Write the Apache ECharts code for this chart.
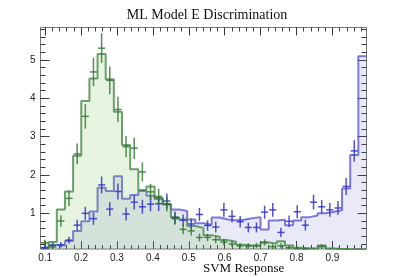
<!DOCTYPE html>
<html><head><meta charset="utf-8">
<script src="https://cdn.jsdelivr.net/npm/echarts@6/dist/echarts.min.js"></script>
<style>html,body{margin:0;padding:0;background:#fff}#c{width:407px;height:277px}</style>
</head><body><div id="c"></div>
<script>
// ---- axis ranges / ticks ----
const X_MIN = 0.087, X_MAX = 0.995, N_BINS = 40;
const Y_MIN = 0.068, Y_MAX = 5.85;
const xTickLabels = [0.1, 0.2, 0.3, 0.4, 0.5, 0.6, 0.7, 0.8, 0.9];
const yTickLabels = [1, 2, 3, 4, 5];

// ---- histograms (bin contents, 40 bins) ----
const signalHist = [0.10, 0.25, 1.10, 1.57, 2.50, 3.93, 4.52, 5.16, 4.50, 3.65,
                    2.78, 2.15, 1.61, 1.70, 1.40, 1.24, 0.90, 0.84, 0.67, 0.62,
                    0.43, 0.39, 0.30, 0.26, 0.18, 0.16, 0.15, 0.24, 0.21, 0.27,
                    0.16, 0.10, 0.09, 0.08, 0.16, 0.08, 0.07, 0.06, 0.06, 0.06];
const backgroundHist = [0.09, 0.17, 0.15, 0.28, 0.54, 0.79, 1.05, 1.67, 1.58, 1.97,
                        1.38, 1.48, 1.58, 1.46, 1.37, 1.23, 1.10, 1.06, 0.84, 0.74,
                        0.70, 0.89, 0.84, 0.82, 0.83, 0.87, 0.90, 0.58, 0.81, 0.83,
                        0.69, 0.81, 0.90, 0.94, 1.00, 1.04, 1.08, 1.65, 2.52, 5.10];

// ---- data points with errors ----
const signalPts = [0.23, 0.12, 0.80, 1.39, 2.55, 3.53, 4.69, 5.31, 4.47, 3.71,
                   2.74, 2.70, 2.08, 1.56, 1.44, 1.24, 0.86, 0.58, 0.54, 0.37,
                   0.37, 0.31, 0.25, 0.20, 0.15, 0.15, 0.16, 0.24, 0.13, 0.15,
                   0.10, 0.08, 0.07, 0.06, 0.13, 0.06, 0.05, 0.05, 0.04, 0.04];
const signalErr = [0.08, 0.06, 0.15, 0.20, 0.27, 0.32, 0.37, 0.39, 0.36, 0.33,
                   0.28, 0.28, 0.25, 0.21, 0.20, 0.19, 0.16, 0.13, 0.12, 0.10,
                   0.10, 0.09, 0.085, 0.08, 0.07, 0.07, 0.07, 0.08, 0.06, 0.07,
                   0.05, 0.05, 0.045, 0.04, 0.06, 0.04, 0.04, 0.04, 0.03, 0.03];
const backgroundPts = [0.10, 0.16, 0.18, 0.30, 0.69, 1.00, 0.86, 1.74, 1.11, 1.57,
                       0.98, 1.29, 1.17, 1.24, 1.25, 1.32, 0.89, 0.82, 0.72, 0.97,
                       0.68, 0.64, 1.09, 0.92, 0.78, 0.63, 0.63, 1.03, 1.09, 0.50,
                       0.79, 1.04, 0.69, 1.29, 1.17, 1.09, 1.14, 1.70, 2.63, null];
const backgroundErr = [0.05, 0.07, 0.07, 0.09, 0.14, 0.17, 0.16, 0.22, 0.18, 0.21,
                       0.17, 0.19, 0.18, 0.19, 0.19, 0.20, 0.16, 0.15, 0.14, 0.17,
                       0.14, 0.14, 0.18, 0.16, 0.15, 0.13, 0.13, 0.17, 0.18, 0.12,
                       0.15, 0.17, 0.14, 0.19, 0.18, 0.18, 0.18, 0.22, 0.28, null];

// ---- build ----
const edges = [];
for (let i = 0; i <= N_BINS; i++) edges.push(X_MIN + i * (X_MAX - X_MIN) / N_BINS);

function stepData(h) {
  const d = h.map((v, i) => [edges[i], v]);
  d.push([edges[N_BINS], h[N_BINS - 1]]);
  return d;
}
function minorList(start, end, step) {
  const out = [];
  for (let v = start; v <= end + 1e-9; v += step) out.push(+v.toFixed(4));
  return out;
}
const xMinor = minorList(0.1, 0.98, 0.02);
const yMinor = minorList(0.2, 5.8, 0.2);

const TICK = '#3a3a3a';
function axis(kind, pos, ticks, len, labels) {
  const a = {
    type: 'value', position: pos, min: kind === 'x' ? X_MIN : Y_MIN, max: kind === 'x' ? X_MAX : Y_MAX,
    axisLine: { show: false }, splitLine: { show: false },
    axisTick: { show: true, inside: true, length: len, customValues: ticks, lineStyle: { color: TICK, width: 1 } },
    axisLabel: { show: false }
  };
  if (labels) {
    a.axisLabel = {
      show: true, customValues: labels, color: '#222', fontSize: 10, fontFamily: 'Liberation Sans',
      margin: kind === 'x' ? 4 : 5,
      formatter: kind === 'x' ? (v => (+v).toFixed(1)) : (v => String(Math.round(v)))
    };
  }
  return a;
}

function errSeries(pts, errs, color) {
  const data = [];
  pts.forEach((v, i) => {
    if (v == null) return;
    data.push([(edges[i] + edges[i + 1]) / 2, v, errs[i], edges[i], edges[i + 1]]);
  });
  return {
    type: 'custom', xAxisIndex: 0, yAxisIndex: 0, data, z: 5,
    encode: { x: 0, y: 1 },
    renderItem(params, api) {
      const cs = params.coordSys;
      const top = cs.y, bot = cs.y + cs.height;
      const c = api.coord([api.value(0), api.value(1)]);
      const l = api.coord([api.value(3), api.value(1)]);
      const r = api.coord([api.value(4), api.value(1)]);
      const hi = api.coord([api.value(0), api.value(1) + api.value(2)]);
      const lo = api.coord([api.value(0), api.value(1) - api.value(2)]);
      const st = { stroke: color, lineWidth: 1.5 };
      const ch = [];
      const y1 = Math.max(top, hi[1]), y2 = Math.min(bot, lo[1]);
      if (y2 > y1) ch.push({ type: 'line', shape: { x1: c[0], y1: y1, x2: c[0], y2: y2 }, style: st });
      if (c[1] <= bot && c[1] >= top)
        ch.push({ type: 'line', shape: { x1: l[0] + 0.5, y1: c[1], x2: r[0] - 0.5, y2: c[1] }, style: st });
      return { type: 'group', children: ch };
    }
  };
}

const chart = echarts.init(document.getElementById('c'), null, { renderer: 'canvas' });
chart.setOption({
  animation: false,
  backgroundColor: '#fff',
  title: {
    text: 'ML Model E Discrimination', left: 207, top: 8, padding: 0, textAlign: 'center',
    textStyle: { fontFamily: 'Liberation Serif', fontSize: 14, fontWeight: 'normal', color: '#111' }
  },
  grid: { left: 40.5, right: 40.5, top: 27.5, bottom: 28, show: true, borderColor: '#777', borderWidth: 1, backgroundColor: 'transparent' },
  xAxis: [
    axis('x', 'bottom', xTickLabels, 8, xTickLabels),
    axis('x', 'bottom', xMinor, 4),
    axis('x', 'top', xTickLabels, 8),
    axis('x', 'top', xMinor, 4)
  ],
  yAxis: [
    axis('y', 'left', yTickLabels, 9, yTickLabels),
    axis('y', 'left', yMinor, 5),
    axis('y', 'right', yTickLabels, 9),
    axis('y', 'right', yMinor, 5)
  ],
  graphic: [{
    type: 'text', left: 203, top: 262, z: 10,
    style: { text: 'SVM Response', fontFamily: 'Liberation Serif', fontSize: 13, fill: '#111', textAlign: 'center' }
  }],
  series: [
    {
      type: 'line', step: 'end', xAxisIndex: 0, yAxisIndex: 0, data: stepData(backgroundHist),
      symbol: 'none', clip: true, z: 2,
      lineStyle: { color: 'rgba(90,90,210,0.8)', width: 2 },
      areaStyle: { color: 'rgba(100,100,200,0.2)', origin: 'start' }
    },
    {
      type: 'line', step: 'end', xAxisIndex: 0, yAxisIndex: 0, data: stepData(signalHist),
      symbol: 'none', clip: true, z: 3,
      lineStyle: { color: 'rgba(60,130,60,0.75)', width: 2 },
      areaStyle: { color: 'rgba(120,190,80,0.25)', origin: 'start' }
    },
    errSeries(backgroundPts, backgroundErr, 'rgba(50,50,205,0.85)'),
    errSeries(signalPts, signalErr, 'rgba(45,115,45,0.8)')
  ]
});
</script></body></html>
